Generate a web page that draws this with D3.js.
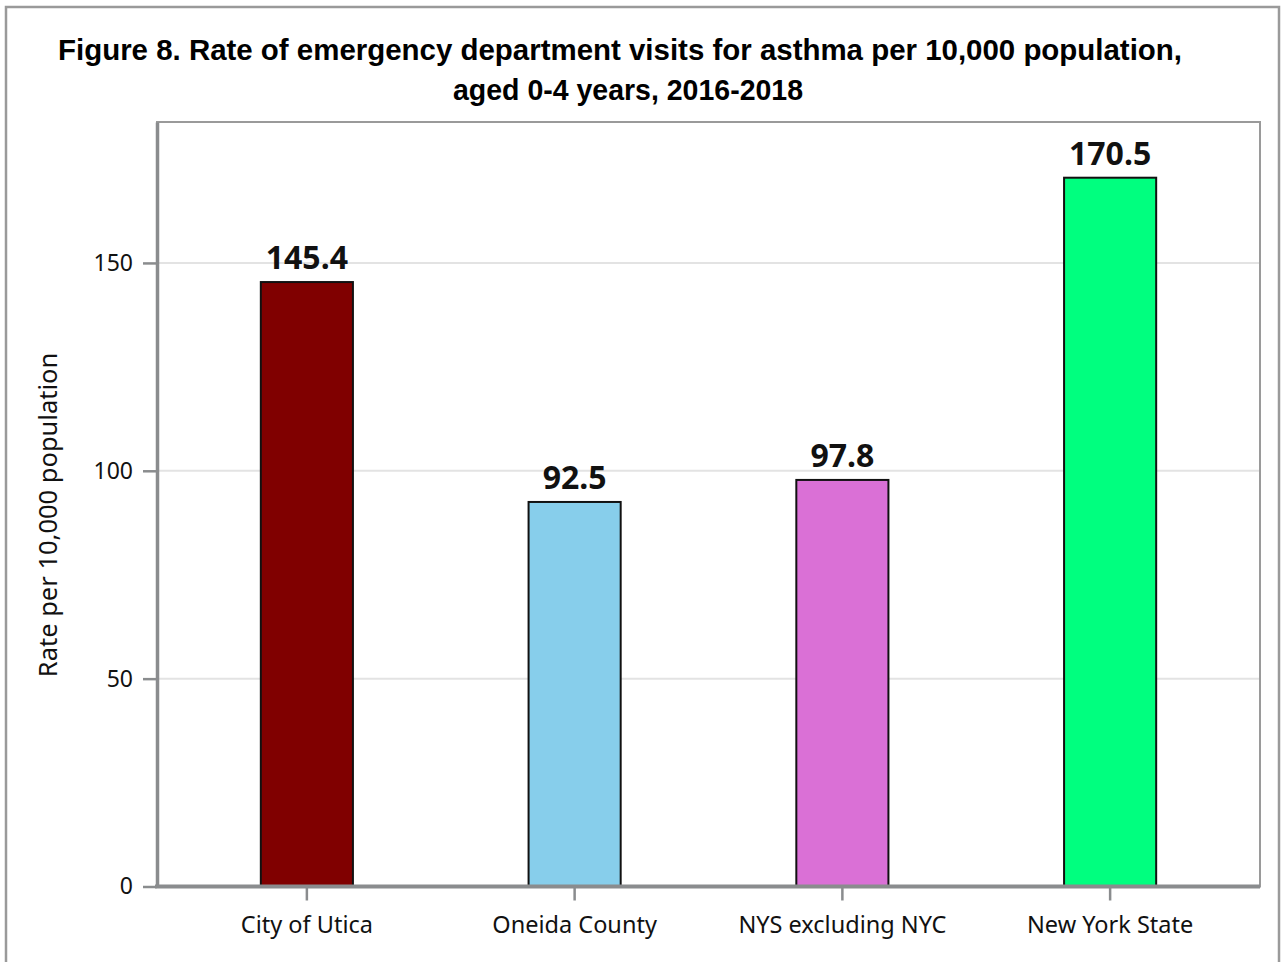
<!doctype html>
<html>
<head>
<meta charset="utf-8">
<style>
  body { margin: 0; background: white; }
  svg { font-family: 'Noto Sans', 'Open Sans', sans-serif; }
  .grid line { stroke: #e3e3e3; stroke-width: 2px; }
  .bar { stroke: #111; stroke-width: 2px; }
  .val { font-weight: bold; font-size: 32px; fill: #111; }
</style>
<script src="https://d3js.org/d3.v7.min.js"></script>
</head>
<body>
<svg width="1284" height="962"></svg>
<script>
var categories = ["City of Utica", "Oneida County", "NYS excluding NYC", "New York State"];
var rates = [145.4, 92.5, 97.8, 170.5];
var barColors = ["#800000", "#87ceeb", "#da70d6", "#00ff7f"];
var yTicks = [0, 50, 100, 150];

var plotLeft = 157, plotRight = 1260, plotTop = 122, plotBottom = 886.5;

var svg = d3.select("svg");

// outer frame
svg.append("rect")
  .attr("x", 6).attr("y", 7).attr("width", 1273).attr("height", 970)
  .attr("fill", "none").attr("stroke", "#9a9a9a").attr("stroke-width", 2.5);

// title (tall, slightly condensed bold sans)
var titleFont = "'Liberation Sans', Arial, sans-serif";
svg.append("text")
  .attr("x", 58).attr("y", 60)
  .attr("font-family", titleFont).attr("font-weight", "bold")
  .attr("font-size", 29)
  .attr("textLength", 1124).attr("lengthAdjust", "spacingAndGlyphs")
  .text("Figure 8. Rate of emergency department visits for asthma per 10,000 population,");
svg.append("text")
  .attr("x", 453).attr("y", 100)
  .attr("font-family", titleFont).attr("font-weight", "bold")
  .attr("font-size", 29)
  .attr("textLength", 350).attr("lengthAdjust", "spacingAndGlyphs")
  .text("aged 0-4 years, 2016-2018");

var x = d3.scaleBand().domain(categories).range([173, 1244])
  .paddingInner(0.656).paddingOuter(0.328);
var y = d3.scaleLinear().domain([0, 183.9]).range([plotBottom, plotTop]);

// plot frame
svg.append("rect")
  .attr("x", plotLeft).attr("y", plotTop)
  .attr("width", plotRight - plotLeft).attr("height", plotBottom - plotTop)
  .attr("fill", "none").attr("stroke", "#9a9a9a").attr("stroke-width", 2);

// gridlines
svg.append("g").attr("class", "grid")
  .selectAll("line").data(yTicks.filter(function (d) { return d > 0; }))
  .join("line")
  .attr("x1", plotLeft + 2).attr("x2", plotRight - 1)
  .attr("y1", function (d) { return y(d); }).attr("y2", function (d) { return y(d); });

// bars
svg.append("g").selectAll("rect").data(rates).join("rect")
  .attr("class", "bar")
  .attr("x", function (d, i) { return x(categories[i]); })
  .attr("width", x.bandwidth())
  .attr("y", function (d) { return y(d); })
  .attr("height", function (d) { return y(0) - y(d); })
  .attr("fill", function (d, i) { return barColors[i]; });

// value labels
svg.append("g").selectAll("text").data(rates).join("text")
  .attr("class", "val")
  .attr("x", function (d, i) { return x(categories[i]) + x.bandwidth() / 2; })
  .attr("y", function (d) { return y(d) - 13; })
  .attr("text-anchor", "middle")
  .text(function (d) { return d.toFixed(1); });

// y axis
var yAxis = svg.append("g").attr("transform", "translate(" + plotLeft + ",0)")
  .call(d3.axisLeft(y).tickValues(yTicks).tickSize(14).tickSizeOuter(0).tickPadding(10));
yAxis.select(".domain").attr("stroke", "#8a8c8e").attr("stroke-width", 3.5);
yAxis.selectAll(".tick line").attr("stroke", "#8a8c8e").attr("stroke-width", 2.5);
yAxis.selectAll(".tick text").attr("font-size", 23).attr("fill", "#111")
  .attr("font-family", "'Noto Sans', sans-serif");

// x axis
var xAxis = svg.append("g").attr("transform", "translate(0," + plotBottom + ")")
  .call(d3.axisBottom(x).tickSize(14).tickPadding(16).tickSizeOuter(0));
xAxis.select(".domain").attr("stroke", "#8a8c8e").attr("stroke-width", 4)
  .attr("d", "M" + (plotLeft - 2) + ",0H" + plotRight);
xAxis.selectAll(".tick line").attr("stroke", "#8a8c8e").attr("stroke-width", 2.5);
xAxis.selectAll(".tick text").attr("font-size", 23.5).attr("fill", "#111")
  .attr("font-family", "'Noto Sans', sans-serif");

// y axis title
svg.append("text")
  .attr("transform", "translate(57,515) rotate(-90)")
  .attr("text-anchor", "middle")
  .attr("font-size", 25.5).attr("fill", "#111")
  .text("Rate per 10,000 population");
</script>
</body>
</html>
